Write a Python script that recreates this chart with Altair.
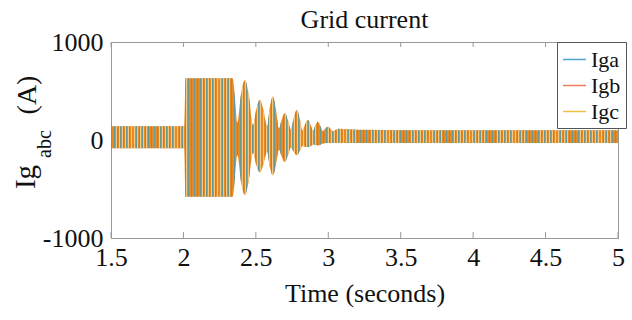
import altair as alt
import pandas as pd

# ---- data (envelope of the three phase currents) ----
t_knots = [1.50, 1.99, 2.005, 2.015, 2.34, 2.356, 2.372, 2.398, 2.425, 2.452,
           2.48, 2.504, 2.528, 2.552, 2.577, 2.597, 2.618, 2.638, 2.659, 2.68,
           2.701, 2.72, 2.742, 2.763, 2.784, 2.803, 2.822, 2.841, 2.86, 2.877,
           2.894, 2.911, 2.929, 2.946, 2.963, 2.98, 2.998, 3.015, 3.032, 3.07,
           3.2, 3.6, 4.0, 4.5, 5.0]
upper = [140, 140, 140, 630, 630, 420, 170, 470, 610, 450,
         150, 320, 410, 310, 140, 340, 445, 320, 120, 215,
         275, 210, 110, 235, 305, 220, 100, 165, 205, 160,
         95, 150, 185, 140, 90, 120, 135, 115, 90, 115,
         105, 100, 100, 100, 100]
lower = [-85, -85, -85, -580, -580, -380, -150, -430, -560, -410,
         -130, -260, -330, -250, -120, -280, -360, -260, -100, -175,
         -225, -165, -80, -125, -155, -115, -60, -70, -75, -65,
         -45, -52, -55, -48, -35, -32, -30, -30, -30, -30,
         -30, -30, -30, -30, -30]

series = ["Iga", "Igb", "Igc"]
legend_colors = ["#4ea6cf", "#ef7b5a", "#efbf45"]
fill_teal = "#6a9892"
fill_orange = "#e68a26"
fill_light = "#f6c884"

x_ticks = [1.5, 2, 2.5, 3, 3.5, 4, 4.5, 5]
y_ticks = [-1000, 0, 1000]
title_text = "Grid current"
x_title = "Time (seconds)"
y_title_parts = ["Ig", "abc", "(A)"]

SERIF = "Liberation Serif"

env = pd.DataFrame({"t": t_knots, "up": upper, "low": lower})
long_df = pd.concat([env.assign(series=s) for s in series], ignore_index=True)

xs = alt.Scale(domain=[1.5, 5], nice=False, zero=False)
ys = alt.Scale(domain=[-1000, 1000], nice=False)

CLEAR = "rgba(255,255,255,0)"


def stripes(color, start, stop, n=165):
    stops = []
    for i in range(n):
        a = (i + start) / n
        b = (i + stop) / n
        stops += [
            alt.GradientStop(color=CLEAR, offset=i / n),
            alt.GradientStop(color=CLEAR, offset=a),
            alt.GradientStop(color=color, offset=a),
            alt.GradientStop(color=color, offset=b),
            alt.GradientStop(color=CLEAR, offset=b),
            alt.GradientStop(color=CLEAR, offset=(i + 1) / n),
        ]
    return alt.Gradient(gradient="linear", stops=stops, x1=0, x2=1, y1=0, y2=0)


base = alt.Chart(env).encode(
    x=alt.X("t:Q", scale=xs,
            axis=alt.Axis(values=x_ticks, format="~g", title=x_title, grid=False,
                          ticks=False, labelPadding=6, titlePadding=10,
                          labelFlush=False, labelOverlap=False,
                          labelFont=SERIF, labelFontSize=26, labelColor="#111",
                          titleFont=SERIF, titleFontSize=26, titleFontWeight="normal",
                          titleColor="#111", domainColor="#999")),
    y=alt.Y("low:Q", scale=ys,
            axis=alt.Axis(values=y_ticks, labelExpr="datum.value + ''", title=None,
                          grid=False, ticks=False, labelPadding=8, labelFlush=False,
                          labelOverlap=False,
                          labelFont=SERIF, labelFontSize=26, labelColor="#111",
                          domainColor="#999")),
    y2="up:Q",
)

area_b = base.mark_area(fill=fill_orange, interpolate="monotone")
area_a = base.mark_area(fill=stripes(fill_teal, 0.0, 0.3), interpolate="monotone")
area_c = base.mark_area(fill=stripes(fill_light, 0.55, 0.8), interpolate="monotone")

legend_layer = alt.Chart(long_df).mark_line(opacity=0).encode(
    x=alt.X("t:Q", scale=xs),
    y=alt.Y("up:Q", scale=ys),
    color=alt.Color("series:N",
                    scale=alt.Scale(domain=series, range=legend_colors),
                    legend=alt.Legend(title=None, orient="none", legendX=446, legendY=0,
                                      symbolType="stroke", symbolSize=529,
                                      symbolStrokeWidth=1.5, symbolOpacity=1,
                                      labelFont=SERIF, labelFontSize=22,
                                      labelColor="#111", strokeColor="#555",
                                      fillColor="white", padding=5, rowPadding=2,
                                      labelOffset=4)),
)

tick_df = pd.DataFrame({"x": x_ticks})
tick_bottom = alt.Chart(tick_df).mark_rule(color="#999").encode(
    x=alt.X("x:Q", scale=xs), y=alt.value(196), y2=alt.value(190))
tick_top = alt.Chart(tick_df).mark_rule(color="#999").encode(
    x=alt.X("x:Q", scale=xs), y=alt.value(0), y2=alt.value(5))

title_layer = alt.Chart(pd.DataFrame({"s": [title_text]})).mark_text(
    font=SERIF, fontSize=26, baseline="alphabetic", align="center", color="#111"
).encode(text="s:N", x=alt.value(253.5), y=alt.value(-14))

yt = pd.DataFrame({"s": y_title_parts, "px": [-76, -60, -75], "py": [135, 102, 53],
                   "fs": [29, 20, 28]})
y_title_layers = [
    alt.Chart(yt.iloc[[i]]).mark_text(angle=270, font=SERIF, fontSize=int(yt.fs[i]),
                                      baseline="alphabetic", align="center",
                                      color="#111").encode(
        text="s:N", x=alt.value(int(yt.px[i])), y=alt.value(int(yt.py[i])))
    for i in range(3)
]

chart = alt.layer(area_b, area_a, area_c, legend_layer, tick_bottom, tick_top,
                  title_layer, *y_title_layers).properties(
    width=507, height=196,
    autosize=alt.AutoSizeParams(type="none"),
    padding={"left": 111, "top": 42, "right": 14, "bottom": 82},
).configure_view(stroke="#999", strokeWidth=1)

chart.save("out.html", embed_options={"renderer": "svg", "actions": False})
